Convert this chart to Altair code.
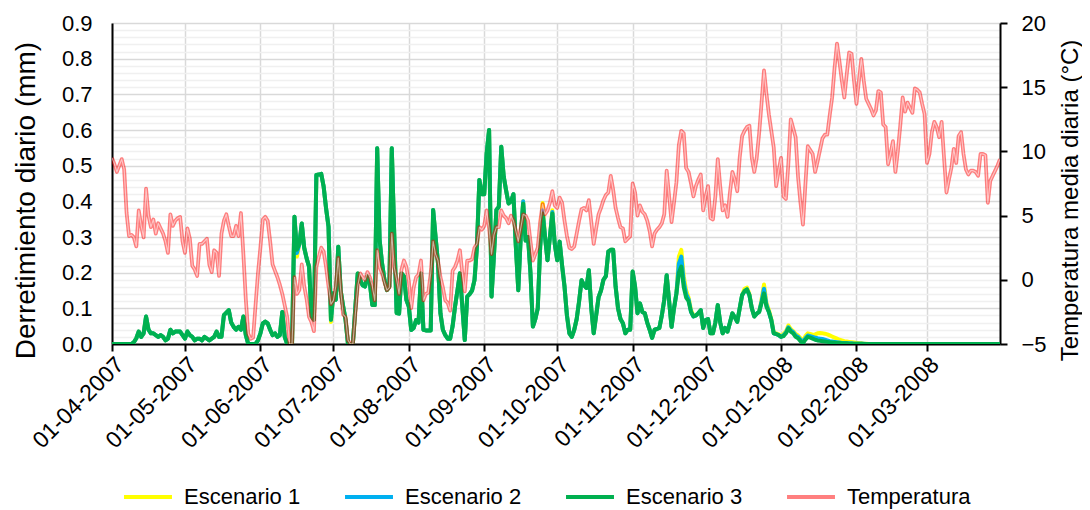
import altair as alt
import pandas as pd

START = "2007-04-01"
MONTH_TICKS = ["2007-04-01", "2007-05-01", "2007-06-01", "2007-07-01", "2007-08-01",
               "2007-09-01", "2007-10-01", "2007-11-01", "2007-12-01", "2008-01-01",
               "2008-02-01", "2008-03-01"]
END = "2008-03-31"
SERIES = ["Escenario 1", "Escenario 2", "Escenario 3", "Temperatura"]
COLORS = ["#FFFF00", "#00B0F0", "#00B050", "rgba(255,0,0,0.5)"]
TEMP_TICKS = [-5, 0, 5, 10, 15, 20]

# Escenario 3 (daily melt, mm)
ESC3 = [
    0, 0, 0, 0, 0, 0, 0, 0, 0, 0.005,
    0.016, 0.035, 0.02, 0.03, 0.077, 0.04, 0.03, 0.03, 0.025, 0.02,
    0.025, 0.02, 0.01, 0.015, 0.04, 0.03, 0.035, 0.035, 0.035, 0.025,
    0.015, 0.035, 0.025, 0.02, 0.01, 0.015, 0.015, 0.01, 0.02, 0.015,
    0.01, 0.015, 0.02, 0.035, 0.02, 0.02, 0.081, 0.088, 0.095, 0.06,
    0.048, 0.04, 0.048, 0.04, 0.077, 0.025, 0, 0, 0, 0,
    0.01, 0.03, 0.058, 0.063, 0.058, 0.04, 0.025, 0.03, 0.02, 0.025,
    0.09, 0.02, 0, 0, 0, 0.357, 0.264, 0.28, 0.338, 0.27,
    0.24, 0.217, 0.077, 0.068, 0.474, 0.475, 0.477, 0.441, 0.38, 0.329,
    0.068, 0.142, 0.124, 0.273, 0.15, 0.106, 0.068, 0, 0, 0,
    0.1, 0.198, 0.18, 0.165, 0.161, 0.19, 0.17, 0.109, 0.109, 0.549,
    0.292, 0.226, 0.18, 0.151, 0.161, 0.549, 0.31, 0.087, 0.085, 0.198,
    0.19, 0.124, 0.105, 0.039, 0.045, 0.067, 0.06, 0.198, 0.04, 0.038,
    0.038, 0.038, 0.376, 0.3, 0.226, 0.086, 0.04, 0.025, 0.015, 0.015,
    0.05, 0.105, 0.15, 0.198, 0.105, 0.011, 0.133, 0.14, 0.15, 0.179,
    0.273, 0.46, 0.42, 0.42, 0.535, 0.6, 0.133, 0.25, 0.376, 0.385,
    0.553, 0.47, 0.43, 0.394, 0.4, 0.42, 0.273, 0.151, 0.3, 0.394,
    0.29, 0.3, 0.2, 0.049, 0.07, 0.1, 0.273, 0.366, 0.3, 0.235,
    0.3, 0.366, 0.28, 0.235, 0.287, 0.22, 0.161, 0.08, 0.03, 0.02,
    0.04, 0.07, 0.12, 0.179, 0.165, 0.157, 0.207, 0.1, 0.03, 0.08,
    0.131, 0.15, 0.18, 0.19, 0.259, 0.264, 0.264, 0.161, 0.1, 0.07,
    0.058, 0.03, 0.04, 0.04, 0.203, 0.161, 0.086, 0.114, 0.09, 0.086,
    0.06, 0.04, 0.017, 0.04, 0.042, 0.045, 0.08, 0.124, 0.193, 0.12,
    0.048, 0.1, 0.142, 0.2, 0.217, 0.16, 0.13, 0.12, 0.09, 0.077,
    0.08, 0.086, 0.095, 0.045, 0.067, 0.07, 0.03, 0.03, 0.06, 0.109,
    0.06, 0.03, 0.045, 0.035, 0.06, 0.086, 0.075, 0.062, 0.1, 0.137,
    0.148, 0.153, 0.137, 0.1, 0.077, 0.085, 0.09, 0.115, 0.142, 0.105,
    0.09, 0.067, 0.03, 0.028, 0.025, 0.02, 0.022, 0.03, 0.044, 0.035,
    0.03, 0.02, 0.016, 0.008, 0.002, 0.012, 0.02, 0.018, 0.015, 0.012,
    0.01, 0.009, 0.008, 0.007, 0.006, 0.005, 0.004, 0.004, 0.003, 0.003,
    0.002, 0.002, 0.002, 0.001, 0.001, 0.001, 0.001, 0.001, 0.001, 0,
    0, 0, 0, 0, 0, 0, 0, 0, 0, 0,
    0, 0, 0, 0, 0, 0, 0, 0, 0, 0,
    0, 0, 0, 0, 0, 0, 0, 0, 0, 0,
    0, 0, 0, 0, 0, 0, 0, 0, 0, 0,
    0, 0, 0, 0, 0, 0, 0, 0, 0, 0,
    0, 0, 0, 0, 0, 0,
]

# Escenario 2
ESC2 = [
    0, 0, 0, 0, 0, 0, 0, 0, 0, 0.005,
    0.016, 0.035, 0.02, 0.03, 0.077, 0.04, 0.03, 0.03, 0.025, 0.02,
    0.025, 0.02, 0.01, 0.015, 0.04, 0.03, 0.035, 0.035, 0.035, 0.025,
    0.015, 0.035, 0.025, 0.02, 0.01, 0.015, 0.015, 0.01, 0.02, 0.015,
    0.01, 0.015, 0.02, 0.035, 0.02, 0.02, 0.081, 0.088, 0.095, 0.06,
    0.048, 0.04, 0.048, 0.04, 0.077, 0.025, 0, 0, 0, 0,
    0.01, 0.03, 0.058, 0.063, 0.058, 0.04, 0.025, 0.03, 0.02, 0.025,
    0.09, 0.02, 0, 0, 0, 0.357, 0.255, 0.28, 0.338, 0.27,
    0.24, 0.217, 0.077, 0.068, 0.474, 0.475, 0.477, 0.441, 0.38, 0.329,
    0.068, 0.142, 0.124, 0.273, 0.15, 0.106, 0.068, 0, 0, 0,
    0.1, 0.198, 0.18, 0.165, 0.161, 0.19, 0.17, 0.109, 0.109, 0.549,
    0.292, 0.226, 0.18, 0.151, 0.161, 0.549, 0.31, 0.087, 0.085, 0.198,
    0.19, 0.124, 0.105, 0.039, 0.045, 0.067, 0.06, 0.198, 0.04, 0.038,
    0.038, 0.038, 0.376, 0.3, 0.226, 0.086, 0.04, 0.025, 0.015, 0.015,
    0.05, 0.105, 0.15, 0.198, 0.105, 0.011, 0.133, 0.14, 0.15, 0.179,
    0.273, 0.46, 0.42, 0.42, 0.535, 0.6, 0.133, 0.25, 0.376, 0.385,
    0.553, 0.47, 0.43, 0.394, 0.4, 0.42, 0.273, 0.151, 0.3, 0.4,
    0.29, 0.3, 0.2, 0.049, 0.07, 0.1, 0.273, 0.375, 0.3, 0.235,
    0.3, 0.37, 0.28, 0.235, 0.287, 0.22, 0.161, 0.08, 0.03, 0.02,
    0.04, 0.07, 0.12, 0.179, 0.165, 0.157, 0.207, 0.1, 0.03, 0.08,
    0.131, 0.15, 0.18, 0.19, 0.259, 0.264, 0.264, 0.161, 0.1, 0.07,
    0.058, 0.03, 0.04, 0.04, 0.203, 0.161, 0.086, 0.114, 0.09, 0.086,
    0.06, 0.04, 0.017, 0.04, 0.042, 0.045, 0.08, 0.124, 0.193, 0.12,
    0.048, 0.1, 0.142, 0.225, 0.245, 0.175, 0.14, 0.125, 0.09, 0.077,
    0.08, 0.086, 0.095, 0.045, 0.067, 0.07, 0.03, 0.03, 0.06, 0.109,
    0.06, 0.03, 0.045, 0.035, 0.06, 0.086, 0.075, 0.062, 0.1, 0.137,
    0.148, 0.153, 0.137, 0.1, 0.077, 0.085, 0.09, 0.12, 0.155, 0.11,
    0.09, 0.067, 0.03, 0.028, 0.025, 0.02, 0.025, 0.032, 0.047, 0.038,
    0.033, 0.024, 0.02, 0.012, 0.006, 0.016, 0.024, 0.022, 0.02, 0.018,
    0.016, 0.015, 0.014, 0.012, 0.01, 0.008, 0.007, 0.006, 0.005, 0.004,
    0.003, 0.003, 0.002, 0.002, 0.002, 0.001, 0.001, 0.001, 0.001, 0.001,
    0, 0, 0, 0, 0, 0, 0, 0, 0, 0,
    0, 0, 0, 0, 0, 0, 0, 0, 0, 0,
    0, 0, 0, 0, 0, 0, 0, 0, 0, 0,
    0, 0, 0, 0, 0, 0, 0, 0, 0, 0,
    0, 0, 0, 0, 0, 0, 0, 0, 0, 0,
    0, 0, 0, 0, 0, 0,
]

# Escenario 1
ESC1 = [
    0, 0, 0, 0, 0, 0, 0, 0, 0, 0.005,
    0.016, 0.035, 0.02, 0.03, 0.077, 0.04, 0.03, 0.03, 0.025, 0.02,
    0.025, 0.02, 0.01, 0.015, 0.04, 0.03, 0.035, 0.035, 0.035, 0.025,
    0.015, 0.035, 0.025, 0.02, 0.01, 0.015, 0.015, 0.01, 0.02, 0.015,
    0.01, 0.015, 0.02, 0.035, 0.02, 0.02, 0.081, 0.088, 0.095, 0.06,
    0.048, 0.04, 0.048, 0.04, 0.077, 0.025, 0, 0, 0, 0,
    0.01, 0.03, 0.058, 0.063, 0.058, 0.04, 0.025, 0.03, 0.02, 0.025,
    0.09, 0.02, 0, 0, 0, 0.357, 0.245, 0.28, 0.338, 0.27,
    0.24, 0.217, 0.077, 0.068, 0.474, 0.475, 0.477, 0.441, 0.38, 0.329,
    0.062, 0.142, 0.124, 0.273, 0.15, 0.106, 0.068, 0, 0, 0,
    0.1, 0.198, 0.18, 0.165, 0.161, 0.19, 0.17, 0.109, 0.109, 0.549,
    0.292, 0.226, 0.18, 0.151, 0.161, 0.549, 0.31, 0.087, 0.085, 0.198,
    0.19, 0.124, 0.105, 0.039, 0.045, 0.067, 0.06, 0.198, 0.04, 0.038,
    0.038, 0.038, 0.376, 0.3, 0.226, 0.086, 0.04, 0.025, 0.015, 0.015,
    0.05, 0.105, 0.15, 0.198, 0.105, 0.011, 0.133, 0.14, 0.15, 0.179,
    0.273, 0.46, 0.42, 0.42, 0.535, 0.6, 0.133, 0.25, 0.376, 0.385,
    0.553, 0.47, 0.43, 0.394, 0.4, 0.42, 0.273, 0.151, 0.3, 0.4,
    0.29, 0.3, 0.2, 0.049, 0.07, 0.1, 0.273, 0.395, 0.3, 0.235,
    0.3, 0.375, 0.28, 0.235, 0.287, 0.22, 0.161, 0.08, 0.03, 0.02,
    0.04, 0.07, 0.12, 0.179, 0.165, 0.157, 0.207, 0.1, 0.03, 0.08,
    0.131, 0.15, 0.18, 0.19, 0.259, 0.264, 0.264, 0.161, 0.1, 0.07,
    0.058, 0.03, 0.04, 0.04, 0.203, 0.161, 0.086, 0.114, 0.09, 0.086,
    0.06, 0.04, 0.017, 0.04, 0.042, 0.045, 0.08, 0.124, 0.193, 0.12,
    0.048, 0.1, 0.142, 0.245, 0.264, 0.19, 0.15, 0.13, 0.095, 0.08,
    0.08, 0.086, 0.095, 0.045, 0.067, 0.07, 0.03, 0.03, 0.06, 0.109,
    0.06, 0.03, 0.045, 0.035, 0.06, 0.086, 0.075, 0.062, 0.1, 0.137,
    0.155, 0.158, 0.14, 0.1, 0.077, 0.085, 0.09, 0.125, 0.167, 0.115,
    0.095, 0.07, 0.032, 0.03, 0.027, 0.022, 0.028, 0.035, 0.052, 0.042,
    0.036, 0.028, 0.024, 0.016, 0.01, 0.022, 0.03, 0.028, 0.026, 0.027,
    0.03, 0.031, 0.03, 0.029, 0.027, 0.024, 0.021, 0.018, 0.015, 0.012,
    0.01, 0.008, 0.007, 0.006, 0.005, 0.004, 0.003, 0.002, 0.002, 0.001,
    0.001, 0, 0, 0, 0, 0, 0, 0, 0, 0,
    0, 0, 0, 0, 0, 0, 0, 0, 0, 0,
    0, 0, 0, 0, 0, 0, 0, 0, 0, 0,
    0, 0, 0, 0, 0, 0, 0, 0, 0, 0,
    0, 0, 0, 0, 0, 0, 0, 0, 0, 0,
    0, 0, 0, 0, 0, 0,
]

# Temperatura media diaria (°C)
TEMP = [
    9.5, 9.0, 8.4, 8.9, 9.4, 8.6, 5.2, 3.4, 3.5, 3.3,
    2.6, 5.4, 4.2, 3.3, 7.1, 5.0, 4.1, 4.7, 3.6, 4.4,
    4.0, 3.6, 3.0, 2.1, 5.1, 4.2, 4.6, 4.8, 4.9, 3.0,
    2.1, 4.0, 3.2, 1.1, 0.8, 0.3, 2.8, 2.8, 3.0, 3.2,
    1.2, 0.6, 2.3, 2.1, 0.3, 3.6, 4.6, 5.1, 4.2, 3.4,
    3.4, 4.2, 3.4, 5.2, 2.0, -1.5, -4.2, -4.6, -4.5, -2.0,
    0.5, 2.5, 4.7, 4.9, 4.6, 3.0, 1.2, 0.7, 0.2, -0.4,
    -1.1, -2.0, -2.9, -5.0, -5.0, 0.2, -1.1, -0.8, 1.2, -0.5,
    -1.5, -2.9, -3.3, -4.0, 1.0, 1.8, 2.5, 2.2, 1.0, -0.5,
    -1.9, -1.6, -0.5, 1.7, -0.8, -2.7, -2.9, -4.7, -5.0, -5.0,
    -2.7, -0.5, 0.5, 0.2, 0.0, 0.6, 0.2, -0.5, -1.6, 2.3,
    1.0, 0.5, -0.2, -0.8, -0.6, 3.6, 1.0, 0.0, -1.1, 0.8,
    1.5, 1.0, -0.1, -2.2, -0.6, 0.2, 0.4, 1.5, -1.6, -1.1,
    -1.0, 0.5, 3.0, 2.0, 1.5, 0.2, -0.6, -1.6, -1.8, -2.4,
    0.7, 1.0, 1.5, 2.3, 0.5, -0.9, 1.5, 1.5, 1.6, 2.5,
    2.8, 4.1, 3.9, 4.2, 5.4, 4.0, 2.0, 3.5, 4.1, 4.1,
    5.4, 5.0, 4.8, 4.4, 5.0, 4.6, 3.8, 3.0, 4.0, 5.1,
    5.0, 4.6, 3.0, 1.5, 2.0, 2.5, 4.5, 5.9, 5.1, 5.4,
    6.0, 6.9, 5.8, 5.6, 6.4, 6.0, 4.6, 3.4, 2.5, 2.4,
    2.6, 3.6, 4.6, 5.5, 5.6, 5.4, 6.2, 4.5, 2.8, 4.0,
    5.1, 5.6, 6.2, 6.6, 6.8, 8.1, 7.0, 5.6, 4.8, 4.1,
    4.0, 3.0, 3.2, 3.4, 7.5, 6.8, 5.0, 5.8, 5.3, 5.1,
    4.6, 3.8, 2.6, 3.6, 3.9, 4.1, 4.4, 5.1, 8.5, 6.5,
    4.5, 6.0, 7.6, 10.5, 11.6, 11.4, 8.7, 8.4, 7.5, 6.5,
    7.3, 7.8, 8.2, 5.4, 6.5, 7.3, 4.8, 4.7, 6.5, 9.4,
    7.3, 5.4, 5.8, 4.9, 6.8, 8.4, 7.8, 6.9, 9.5, 11.2,
    11.6, 11.9, 12.0, 9.5, 8.4, 9.5, 11.4, 13.8, 16.3, 14.5,
    12.9, 11.6, 10.3, 7.3, 8.5, 9.5, 6.5, 6.3, 9.0, 12.5,
    11.8, 11.1, 8.0, 6.0, 4.3, 7.4, 10.4, 10.1, 9.8, 8.4,
    9.2, 10.1, 11.0, 11.3, 11.3, 12.8, 14.2, 16.5, 18.4, 17.0,
    15.5, 14.2, 16.0, 17.7, 17.6, 15.5, 13.7, 15.5, 17.2, 15.5,
    14.1, 13.7, 13.3, 12.8, 13.2, 14.7, 14.6, 12.1, 11.9, 9.0,
    9.8, 10.8, 8.4, 10.0, 12.0, 14.2, 13.1, 13.8, 13.4, 13.0,
    14.9, 14.8, 14.6, 13.7, 12.9, 9.1, 9.8, 11.5, 12.3, 11.9,
    11.1, 12.3, 9.5, 6.8, 7.8, 8.7, 10.2, 9.1, 11.2, 11.5,
    9.8, 8.6, 8.2, 8.5, 8.5, 8.4, 8.1, 9.8, 9.8, 9.7,
    6.0, 7.7, 8.1, 8.5, 8.9, 9.4,
]

dates = pd.date_range(START, periods=len(TEMP), freq="D").strftime("%Y-%m-%d").tolist()

melt_df = pd.concat([
    pd.DataFrame({"fecha": dates, "serie": name, "valor": vals})
    for name, vals in zip(SERIES[:3], [ESC1, ESC2, ESC3])
], ignore_index=True)
temp_df = pd.DataFrame({"fecha": dates, "serie": SERIES[3], "temp": TEMP})


def dt(s):
    y, m, d = (int(p) for p in s.split("-"))
    return alt.DateTime(year=y, month=m, date=d, utc=True)


FONT = "Liberation Sans"
MAJOR = "abs(datum.value*10 - round(datum.value*10)) < 0.001"
left_grid_values = [round(i * 0.02, 2) for i in range(46)]

x_enc = alt.X(
    "fecha:T",
    scale=alt.Scale(type="utc", domain=[dt(START), dt(END)], nice=False),
    axis=alt.Axis(
        values=[dt(s) for s in MONTH_TICKS],
        labelExpr="utcFormat(datum.value, '%d-%m-%Y')",
        labelAngle=315, labelAlign="right", labelBaseline="top",
        labelFontSize=23, labelColor="black", labelPadding=2,
        labelOverlap=False, labelFlush=False,
        grid=True, gridColor="#D9D9D9", gridWidth=1.5,
        ticks=True, tickSize=7, tickWidth=2, tickColor="black",
        domainColor="black", domainWidth=2, title=None,
    ),
)

color_enc = alt.Color(
    "serie:N",
    scale=alt.Scale(domain=SERIES, range=COLORS),
    legend=alt.Legend(
        orient="none", legendX=10, legendY=448, direction="horizontal",
        symbolType="stroke", symbolSize=2300, symbolStrokeWidth=4,
        labelFontSize=22, labelColor="black", labelOffset=10,
        columnPadding=36, padding=0, title=None,
    ),
)

left_axis = alt.Axis(
    values=left_grid_values,
    labelExpr=MAJOR + " ? format(datum.value, '.1f') : ''",
    labelFontSize=22, labelColor="black", labelPadding=20,
    labelOverlap=False, labelFlush=False,
    gridColor={"condition": {"test": MAJOR, "value": "#D9D9D9"}, "value": "#F0F0F0"},
    gridWidth=1.5, ticks=False, tickSize=0,
    domainColor="black", domainWidth=2,
    title="Derretimiento diario (mm)", titleFontSize=28, titleFontWeight="normal",
    titleColor="black", titleAngle=270, titleX=-86, titleY=177,
    titleAlign="center", titleBaseline="middle",
)

right_axis = alt.Axis(
    orient="right", values=TEMP_TICKS, grid=False,
    ticks=True, tickSize=7, tickWidth=2, tickColor="black",
    domainColor="black", domainWidth=2,
    labelFontSize=22, labelColor="black", labelPadding=14,
    title="Temperatura media diaria (°C)", titleFontSize=24, titleFontWeight="normal",
    titleColor="black", titleAngle=270, titleX=70, titleY=177,
    titleAlign="center", titleBaseline="middle",
)

melt = alt.Chart(melt_df).mark_line(strokeWidth=4, clip=True, strokeJoin="round").encode(
    x=x_enc,
    y=alt.Y("valor:Q", scale=alt.Scale(domain=[0, 0.9], nice=False), axis=left_axis),
    color=color_enc,
)

temp_y = alt.Y("temp:Q", scale=alt.Scale(domain=[-5, 20], nice=False), axis=right_axis)
temp = alt.Chart(temp_df).mark_line(strokeWidth=3.8, clip=True, strokeJoin="round").encode(
    x=x_enc, y=temp_y, color=color_enc,
)
temp_center = alt.Chart(temp_df).mark_line(
    strokeWidth=1.1, clip=True, color="white", opacity=0.55, strokeJoin="round"
).encode(x=x_enc, y=temp_y)

chart = alt.layer(melt, alt.layer(temp, temp_center)).resolve_scale(
    y="independent"
).properties(
    width=888, height=321,
    autosize=alt.AutoSizeParams(type="none"),
    padding={"left": 104, "top": 15, "right": 82, "bottom": 166},
).configure(font=FONT).configure_view(stroke=None)

chart.save("out.html", embed_options={"renderer": "svg", "actions": False})
